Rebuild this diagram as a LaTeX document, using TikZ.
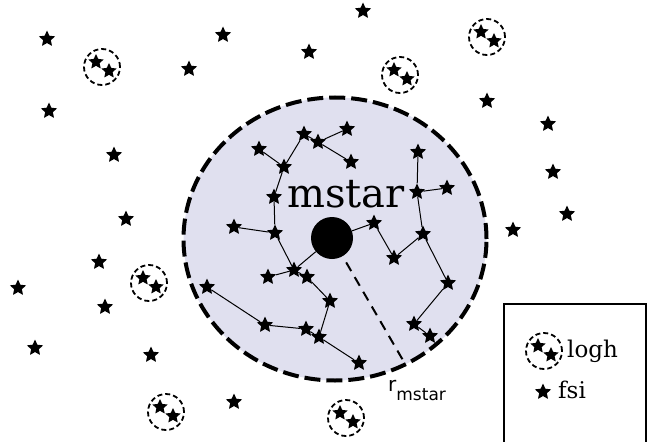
\documentclass[tikz,border=0pt]{standalone}
\usepackage{fontspec}
\setmainfont{DejaVu Serif}
\setsansfont{DejaVu Sans}
\usetikzlibrary{shapes.geometric}
\definecolor{halofill}{HTML}{E0E0EF}
\tikzset{
  fsi/.style={star, star points=5, star point ratio=2.1, fill=black, inner sep=0pt, minimum size=17pt},
  logh/.style={circle, draw, line width=1.8pt, dash pattern=on 5pt off 3pt, minimum size=36pt, inner sep=0pt},
  link/.style={line width=1pt},
}

\begin{document}
\begin{tikzpicture}[x=1pt,y=-1pt]
\useasboundingbox (0,0) rectangle (660,441);
% halo of the cluster
\node[ellipse, draw, fill=halofill, line width=4pt, dash pattern=on 16pt off 6pt,
  minimum width=303pt, minimum height=283pt, inner sep=0pt] (halo) at (335,239) {};
% field stars
\foreach \x/\y [count=\i] in {47/39, 223/35, 309/52, 363/11, 189/69, 49/111, 114/155,
  126/219, 99/262, 18/288, 105/307, 35/348, 151/355, 234/402, 487/101, 548/124,
  553/172, 567/214, 513/230}
  \node[fsi] (f\i) at (\x,\y) {};
% binaries
\foreach \x/\y [count=\i] in {102/67, 400/75, 487/37, 149/283, 166/412, 346/418} {
  \node[logh] (b\i) at (\x,\y) {};
  \node[fsi, minimum size=16pt] (b\i a) at ([shift={(-6,-5)}]b\i.center) {};
  \node[fsi, minimum size=16pt] (b\i b) at ([shift={(7,4)}]b\i.center) {};
}
% cluster members
\node[fsi] (c1) at (259,149) {};
\node[fsi] (c2) at (284,167) {};
\node[fsi] (c3) at (304,134) {};
\node[fsi] (c4) at (318,142) {};
\node[fsi] (c5) at (347,129) {};
\node[fsi] (c6) at (351,162) {};
\node[fsi] (c7) at (274,197) {};
\node[fsi] (c8) at (234,227) {};
\node[fsi] (c9) at (275,233) {};
\node[fsi] (c10) at (294,270) {};
\node[fsi] (c11) at (268,277) {};
\node[fsi] (c12) at (307,277) {};
\node[fsi] (c13) at (330,301) {};
\node[fsi] (c14) at (207,287) {};
\node[fsi] (c15) at (265,325) {};
\node[fsi] (c16) at (306,329) {};
\node[fsi] (c17) at (319,337) {};
\node[fsi] (c18) at (359,363) {};
\node[fsi] (c19) at (418,152) {};
\node[fsi] (c20) at (417,192) {};
\node[fsi] (c21) at (447,188) {};
\node[fsi] (c22) at (374,223) {};
\node[fsi] (c23) at (394,258) {};
\node[fsi] (c24) at (423,234) {};
\node[fsi] (c25) at (448,283) {};
\node[fsi] (c26) at (414,324) {};
\node[fsi] (c27) at (430,336) {};
% central massive star
\coordinate (redge) at (404,362);
\node[circle, fill=black, minimum size=42pt, inner sep=0pt] (mstar) at (332,238) {};
\draw[line width=2pt, dash pattern=on 10pt off 7pt, dash phase=10pt] (mstar) -- (redge);
\foreach \a/\b in {mstar/c10, mstar/c22, c10/c9, c10/c11, c10/c12, c12/c13, c13/c17,
  c17/c16, c17/c18, c16/c15, c15/c14, c9/c8, c9/c7, c7/c2, c2/c1, c2/c3, c3/c4,
  c4/c5, c4/c6, c22/c23, c23/c24, c24/c20, c24/c25, c20/c19, c20/c21, c25/c26, c26/c27}
  \draw[link] (\a) -- (\b);
\node[font=\fontsize{40}{40}\selectfont, anchor=base, inner sep=0pt] (mstarlabel) at (346,207) {mstar};
\node[font=\sffamily\fontsize{20}{20}\selectfont, anchor=base west, inner sep=0pt] (rlabel) at (388,391)
  {r\raisebox{-9pt}{\fontsize{17}{17}\selectfont mstar}};
% legend
\node[draw, line width=1.5pt, minimum width=142pt, minimum height=170pt, anchor=north west] (legend) at (503,303) {};
\node[logh] (keylogh) at (544,351) {};
\node[fsi, minimum size=16pt] (keyloghA) at ([shift={(-6,-5)}]keylogh.center) {};
\node[fsi, minimum size=16pt] (keyloghB) at ([shift={(7,4)}]keylogh.center) {};
\node[fsi] (keyfsi) at (543,392) {};
\node[font=\fontsize{23}{23}\selectfont, anchor=base west, inner sep=0pt] (loghtext) at (567,357) {logh};
\node[font=\fontsize{23}{23}\selectfont, anchor=base west, inner sep=0pt] (fsitext) at (558,398) {fsi};
\end{tikzpicture}
\end{document}
